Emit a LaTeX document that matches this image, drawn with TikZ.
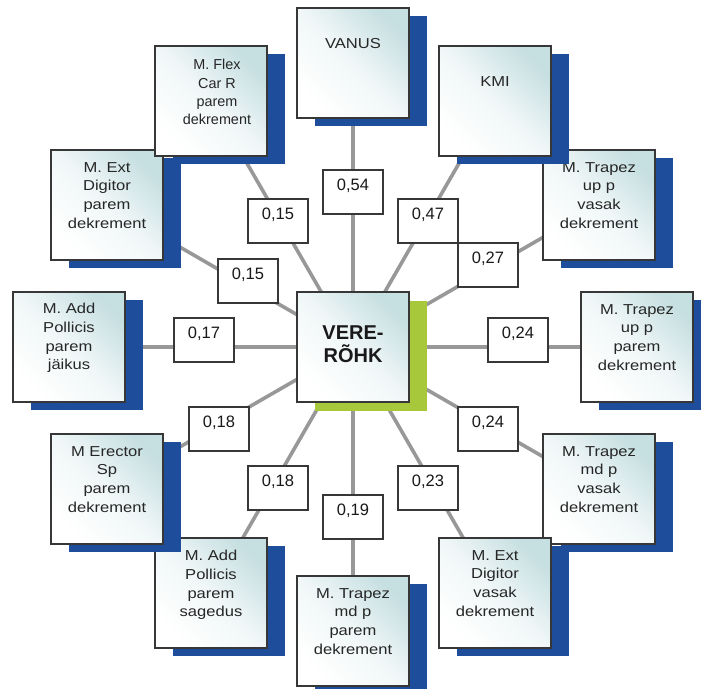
\documentclass[tikz,border=0pt]{standalone}
\usepackage{fontspec}
\setmainfont{Liberation Sans}
\newfontfamily\widesans[FakeStretch=1.15]{Liberation Sans}
\usetikzlibrary{positioning,shadows,backgrounds}
\definecolor{shadowblue}{RGB}{30,77,156}
\definecolor{shadowgreen}{RGB}{168,200,60}
\definecolor{boxteal}{RGB}{198,223,225}
\definecolor{linegray}{RGB}{152,152,152}
\definecolor{edgegray}{RGB}{55,55,55}
\tikzset{
  plainbox/.style={draw=edgegray, line width=1.3pt, minimum width=112pt,
    minimum height=110pt, inner sep=0pt, outer sep=0pt,
    top color=boxteal, bottom color=white, middle color=white!75!boxteal,
    shading angle=-45},
  outbox/.style={plainbox, drop shadow={shadow xshift=18pt, shadow yshift=-8pt,
    fill=shadowblue, opacity=1}},
  midbox/.style={plainbox, drop shadow={shadow xshift=18pt, shadow yshift=-9pt,
    fill=shadowgreen, opacity=1}},
  outtext/.style={align=center, inner sep=0pt, text=black!85,
    font=\widesans\fontsize{14.4}{18.7}\selectfont},
  midtext/.style={align=center, inner sep=0pt, text=black!90,
    font=\bfseries\fontsize{20}{23}\selectfont},
  valbox/.style={draw=edgegray, fill=white, line width=1.2pt, minimum width=60pt,
    minimum height=44pt, inner sep=0pt, text height=20.75pt, text depth=23.25pt,
    text=black!90, font=\fontsize{16.5}{19}\selectfont},
  conn/.style={draw=linegray, line width=3.6pt}
}
\begin{document}
\begin{tikzpicture}[x=1pt, y=-1pt]
  \useasboundingbox (0, 0) rectangle (701, 688) ;
  % keskmine kast
  \node[midbox] (vr) at (353, 347) {} ;
  \node[midtext, below=34pt of vr.north] (vr-t) {VERE-\\RÕHK} ;
  % ümbritsevad kastid
  \node[outbox] (tuv) at (599, 205) {} ;
  \node[outtext, below=12pt of tuv.north] (tuv-t) {M. Trapez\\up p\\vasak\\dekrement} ;
  \node[outbox] (tup) at (637, 347) {} ;
  \node[outtext, below=12pt of tup.north] (tup-t) {M. Trapez\\up p\\parem\\dekrement} ;
  \node[outbox] (tmv) at (599, 489) {} ;
  \node[outtext, below=12pt of tmv.north] (tmv-t) {M. Trapez\\md p\\vasak\\dekrement} ;
  \node[outbox] (edv) at (495, 593) {} ;
  \node[outtext, below=12pt of edv.north] (edv-t) {M. Ext\\Digitor\\vasak\\dekrement} ;
  \node[outbox] (tmp) at (353, 631) {} ;
  \node[outtext, below=12pt of tmp.north] (tmp-t) {M. Trapez\\md p\\parem\\dekrement} ;
  \node[outbox] (aps) at (211, 593) {} ;
  \node[outtext, below=12pt of aps.north] (aps-t) {M. Add\\Pollicis\\parem\\sagedus} ;
  \node[outbox] (ers) at (107, 489) {} ;
  \node[outtext, below=12pt of ers.north] (ers-t) {M Erector\\Sp\\parem\\dekrement} ;
  \node[outbox] (apj) at (69, 347) {} ;
  \node[outtext, below=11pt of apj.north] (apj-t) {M. Add\\Pollicis\\parem\\jäikus} ;
  \node[outbox] (edp) at (107, 205) {} ;
  \node[outtext, below=12pt of edp.north] (edp-t) {M. Ext\\Digitor\\parem\\dekrement} ;
  \node[outbox] (fcr) at (211, 101) {} ;
  \node[outtext, below=13pt of fcr.north, xshift=6pt, font=\fontsize{14.4}{18.4}\selectfont]
    (fcr-t) {M. Flex\\Car R\\parem\\dekrement} ;
  \node[outbox] (van) at (353, 63) {} ;
  \node[outtext, below=30pt of van.north] (van-t) {VANUS} ;
  \node[outbox] (kmi) at (495, 101) {} ;
  \node[outtext, below=30pt of kmi.north] (kmi-t) {KMI} ;
  % seosed
  \begin{scope}[on background layer]
    \foreach \n in {van, kmi, tuv, tup, tmv, edv, tmp, aps, ers, apj, edp, fcr}
      \draw[conn] (vr.center) -- (\n.center) ;
  \end{scope}
  % korrelatsioonid
  \node[valbox] (v-van) at (353, 192) {0,54} ;
  \node[valbox] (v-kmi) at (428, 221) {0,47} ;
  \node[valbox] (v-tuv) at (488, 265) {0,27} ;
  \node[valbox] (v-tup) at (518, 340) {0,24} ;
  \node[valbox] (v-tmv) at (488, 429) {0,24} ;
  \node[valbox] (v-edv) at (428, 488) {0,23} ;
  \node[valbox] (v-tmp) at (353, 517) {0,19} ;
  \node[valbox] (v-aps) at (278, 488) {0,18} ;
  \node[valbox] (v-ers) at (219, 429) {0,18} ;
  \node[valbox] (v-apj) at (204, 340) {0,17} ;
  \node[valbox] (v-edp) at (248, 281) {0,15} ;
  \node[valbox] (v-fcr) at (278, 221) {0,15} ;
\end{tikzpicture}
\end{document}
